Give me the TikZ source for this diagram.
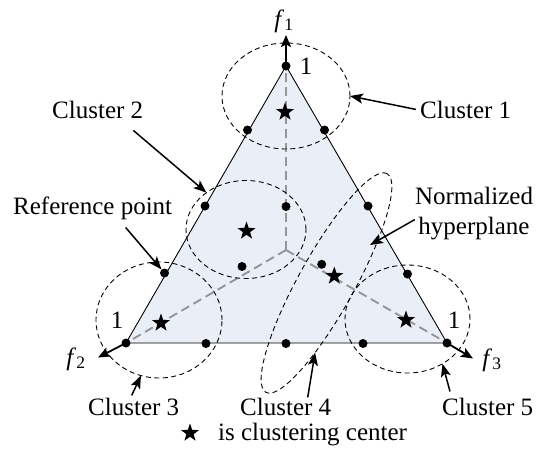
\documentclass[tikz,border=0pt]{standalone}
\usepackage{fontspec}
\setmainfont{Liberation Serif}
\usetikzlibrary{shapes.geometric,arrows.meta}
\definecolor{planefill}{RGB}{234,238,247}
\definecolor{guidegray}{RGB}{150,150,150}

\begin{document}
\begin{tikzpicture}[x=1pt, y=-1pt,
    every node/.style={font=\fontsize{25}{30}\selectfont, inner sep=0pt},
    vdot/.style={circle, fill=black, minimum size=9pt, inner sep=0pt},
    cstar/.style={star, star points=5, star point ratio=2.5, fill=black, minimum size=19pt, inner sep=0pt},
    clus/.style={ellipse, draw, dash pattern=on 5pt off 3.5pt, line width=0.9pt, inner sep=0pt, outer sep=0pt},
    guide/.style={guidegray, line width=1.9pt, dash pattern=on 9pt off 5pt},
    axis/.style={line width=1.8pt, -{Stealth[length=12pt,width=10pt,inset=2.5pt]}},
    lbl/.style={line width=1.5pt, -{Stealth[length=13pt,width=10pt,inset=3pt]}}]
    \useasboundingbox (0,0) rectangle (546,458);
    % Hyperplane
    \coordinate (top) at (286,66);
    \coordinate (left) at (126,343);
    \coordinate (right) at (447,343);
    \coordinate (o) at (286,250);
    \fill[planefill] (top) -- (left) -- (right) -- cycle;
    \draw[guide] (o) -- (top);
    \draw[guide] (o) -- (left);
    \draw[guide] (o) -- (right);
    \draw[line width=0.9pt] (top) -- (left) -- (right) -- cycle;
    % Clusters
    \node[clus, minimum width=128pt, minimum height=106pt] (e1) at (286,96) {};
    \node[clus, minimum width=120pt, minimum height=98pt] (e2) at (246,229.5) {};
    \node[clus, minimum width=126pt, minimum height=116pt] (e3) at (159,320) {};
    \node[clus, minimum width=250pt, minimum height=56pt, rotate=61] (e4) at (326.5,283) {};
    \node[clus, minimum width=125pt, minimum height=108pt] (e5) at (407.5,319) {};
    % Reference points
    \node[vdot] (v1) at (top) {};
    \node[vdot] (v2) at (left) {};
    \node[vdot] (v3) at (right) {};
    \node[vdot] (p1) at (247.5,130) {};
    \node[vdot] (p2) at (205,206) {};
    \node[vdot] (p3) at (164.5,273) {};
    \node[vdot] (p4) at (324.5,130) {};
    \node[vdot] (p5) at (368,206) {};
    \node[vdot] (p6) at (407.5,274) {};
    \node[vdot] (p7) at (206,343.5) {};
    \node[vdot] (p8) at (286,343.5) {};
    \node[vdot] (p9) at (363,343.5) {};
    \node[vdot] (p10) at (286,206.5) {};
    \node[vdot] (p11) at (242,266.5) {};
    \node[vdot] (p12) at (321.7,264.3) {};
    % Centers
    \node[cstar] (s1) at (285,112) {};
    \node[cstar] (s2) at (246.5,231) {};
    \node[cstar] (s3) at (161,323) {};
    \node[cstar] (s4) at (334.3,276) {};
    \node[cstar] (s5) at (406,320) {};
    % Axes
    \node (f1) at (284,21) {\textit{f}\textsubscript{1}};
    \node (f2) at (76,359) {\textit{f}\textsubscript{2}};
    \node (f3) at (492,360) {\textit{f}\textsubscript{3}};
    \coordinate (a1) at (286,35);
    \coordinate (a2) at (98,357.5);
    \coordinate (a3) at (473,358.5);
    \draw[axis] (v1.center) -- (a1);
    \draw[axis] (v2.center) -- (a2);
    \draw[axis] (v3.center) -- (a3);
    \node (one1) at (306,66) {1};
    \node (one2) at (117,320) {1};
    \node (one3) at (454,320) {1};
    % Labels
    \node[anchor=base west] (c1) at (420,118) {Cluster 1};
    \node[anchor=base west] (c2) at (52,118) {Cluster 2};
    \node[anchor=base west] (rp) at (13,214) {Reference point};
    \node[anchor=north, align=center] (hp) at (474,187) {Normalized\\hyperplane};
    \node[anchor=base west] (c3) at (88,415) {Cluster 3};
    \node[anchor=base west] (c4) at (240,415) {Cluster 4};
    \node[anchor=base west] (c5) at (442,415) {Cluster 5};
    \node[cstar] (ls) at (190,433) {};
    \node[anchor=base west] (lt) at (218,440) {is clustering center};
    \coordinate (hpt) at (370,245);
    \draw[lbl] ([xshift=-4pt]c1.west) -- (e1.0);
    \draw[lbl] ([xshift=-10pt,yshift=-12pt]c2.south east) -- (e2.137);
    \draw[lbl] ([xshift=33pt,yshift=-8pt]rp.south) -- (p3);
    \draw[lbl] ([yshift=-6pt]hp.west) -- (hpt);
    \draw[lbl] ([xshift=-2pt,yshift=2pt]c3.north) -- (e3.-108);
    \draw[lbl] ([xshift=22pt]c4.north) -- (e4);
    \draw[lbl] ([xshift=8pt,yshift=6pt]c5.north west) -- (e5.-52);
\end{tikzpicture}
\end{document}
